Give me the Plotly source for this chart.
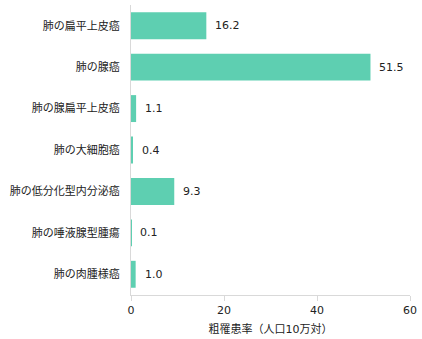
import plotly.graph_objects as go

categories = ["肺の扁平上皮癌", "肺の腺癌", "肺の腺扁平上皮癌", "肺の大細胞癌",
              "肺の低分化型内分泌癌", "肺の唾液腺型腫瘍", "肺の肉腫様癌"]
values = [16.2, 51.5, 1.1, 0.4, 9.3, 0.1, 1.0]
x_ticks = [0, 20, 40, 60]

bar_color = "#5ecfb1"
axis_color = "#d9d9d9"
font_family = "DejaVu Sans, Noto Sans CJK JP, sans-serif"

fig = go.Figure()
fig.add_trace(go.Bar(
    x=values, y=categories, orientation="h",
    marker=dict(color=bar_color, line=dict(width=0)),
    hoverinfo="x+y",
))

# value labels just right of each bar
for cat, v in zip(categories, values):
    fig.add_annotation(x=v, y=cat, text=f"{v:.1f}", showarrow=False,
                       xanchor="left", xshift=7,
                       font=dict(size=11, color="#222222", family=font_family))

fig.update_xaxes(
    range=[0, 60], tickvals=x_ticks, showgrid=False, zeroline=False,
    showline=True, linecolor=axis_color, linewidth=1,
    ticks="outside", ticklen=5, tickcolor=axis_color,
    tickfont=dict(size=11, color="#222222"),
    title=dict(text="粗罹患率（人口10万対）", font=dict(size=11, color="#222222"), standoff=9),
)
fig.update_yaxes(
    autorange="reversed", showgrid=False, zeroline=False,
    showline=True, linecolor=axis_color, linewidth=1,
    ticks="", ticklabelstandoff=8,
    tickfont=dict(size=11, color="#222222", family="Noto Sans CJK JP, sans-serif"),
)

fig.update_layout(
    width=422, height=339,
    margin=dict(l=131, r=10, t=5, b=42),
    plot_bgcolor="white", paper_bgcolor="white",
    bargap=0.35, showlegend=False,
    font=dict(family=font_family, size=11, color="#222222"),
)

# drop the default page margin so the figure sits at the window's corner
fig.write_html("out.html", config={"displayModeBar": False},
               post_script="document.body.style.margin='0';")
